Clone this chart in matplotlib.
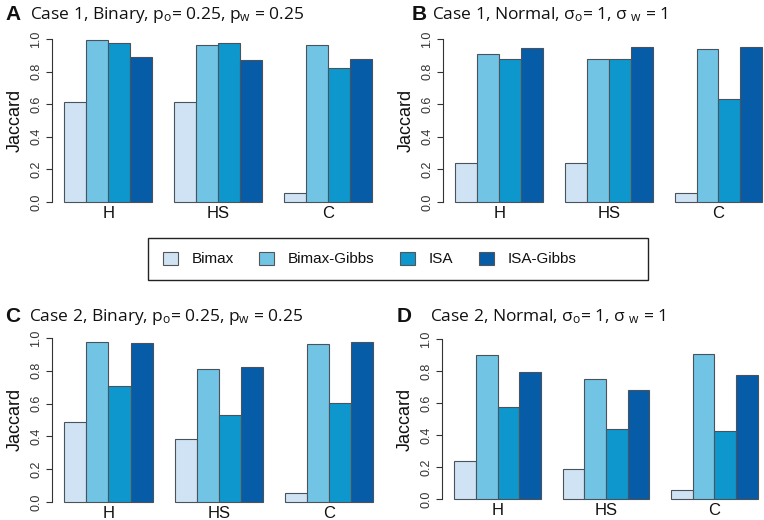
import matplotlib
matplotlib.use("Agg")
import matplotlib.pyplot as plt
from matplotlib.patches import Patch, Rectangle
import numpy as np

plt.rcParams['font.family'] = ['Liberation Sans', 'DejaVu Sans']
plt.rcParams['mathtext.fontset'] = 'custom'
plt.rcParams['mathtext.rm'] = 'Open Sans'
plt.rcParams['mathtext.it'] = 'Open Sans:italic'

# data (rows = H, HS, C ; cols = methods)
methods = ["Bimax", "Bimax-Gibbs", "ISA", "ISA-Gibbs"]
groups = ["H", "HS", "C"]
colors = ["#cfe3f4", "#72c4e5", "#0d97cc", "#075ca8"]

jac_a = [[0.616, 0.992, 0.973, 0.888], [0.616, 0.961, 0.973, 0.871], [0.053, 0.965, 0.820, 0.877]]
jac_b = [[0.240, 0.908, 0.875, 0.947], [0.240, 0.879, 0.877, 0.949], [0.055, 0.936, 0.634, 0.951]]
jac_c = [[0.486, 0.976, 0.704, 0.969], [0.384, 0.812, 0.527, 0.822], [0.053, 0.965, 0.606, 0.973]]
jac_d = [[0.238, 0.900, 0.573, 0.795], [0.186, 0.747, 0.439, 0.679], [0.056, 0.908, 0.422, 0.774]]

panels = [
    ("A", "Case 1, Binary, $\\mathrm{p_o}$= 0.25, $\\mathrm{p_w}$ = 0.25", jac_a),
    ("B", "Case 1, Normal, $\\mathrm{σ_o}$= 1, $\\mathrm{σ}\\;{}_\\mathrm{w}$ = 1", jac_b),
    ("C", "Case 2, Binary, $\\mathrm{p_o}$= 0.25, $\\mathrm{p_w}$ = 0.25", jac_c),
    ("D", "Case 2, Normal, $\\mathrm{σ_o}$= 1, $\\mathrm{σ}\\;{}_\\mathrm{w}$ = 1", jac_d),
]

W, H = 764, 520
fig = plt.figure(figsize=(W / 100, H / 100), dpi=100)

# axes boxes in pixels: left, top, width, height
boxes = [(52, 32.5, 332.6, 176), (443, 32.5, 331.6, 176),
         (52, 331.4, 333.5, 177), (442, 332.6, 328, 172.8)]
# letter x, title x, title y (pixels from top)
heads = [(5, 30, 15), (412, 432, 15), (5, 29, 317), (397, 430, 317)]

edge = "#4a535c"
for (letter, title, vals), (l, t, w, h), (lx, tx, ty) in zip(panels, boxes, heads):
    ax = fig.add_axes([l / W, 1 - (t + h) / H, w / W, h / H])
    vals = np.array(vals)
    for j in range(4):
        x = [1 + g * 5 + j for g in range(3)]
        ax.bar(x, vals[:, j], width=1, align="edge", color=colors[j],
               edgecolor=edge, linewidth=0.8)
    ax.set_xlim(0.44, 15.56)
    ax.set_ylim(-0.04, 1.04)
    for s in ["top", "right", "bottom"]:
        ax.spines[s].set_visible(False)
    ax.spines["left"].set_bounds(0, 1)
    ax.spines["left"].set_color("#333333")
    ax.spines["left"].set_linewidth(0.8)
    ax.set_yticks([0, 0.2, 0.4, 0.6, 0.8, 1.0])
    ax.set_yticklabels(["0.0", "0.2", "0.4", "0.6", "0.8", "1.0"], rotation=90, va="center")
    ax.tick_params(axis="y", length=4, width=0.8, color="#333333", labelsize=9,
                   labelcolor="#333333", pad=3)
    ax.set_xticks([3 + g * 5 for g in range(3)])
    ax.set_xticklabels(groups)
    ax.tick_params(axis="x", length=0, labelsize=12, labelcolor="#111111", pad=-1.5)
    ax.set_ylabel("Jaccard", fontsize=13, color="#111111", labelpad=5)
    fig.text(lx / W, 1 - ty / H, letter, fontsize=15, fontweight="bold",
             va="center", ha="left", color="#111111")
    fig.text(tx / W, 1 - ty / H, title, fontsize=12.5, family="Open Sans",
             va="center", ha="left", color="#111111")

# legend box across the middle
fig.patches.append(Rectangle((148 / W, 1 - 280 / H), 500 / W, 42 / H,
                             transform=fig.transFigure, fill=False,
                             edgecolor="#222222", linewidth=1))
handles = [Patch(facecolor=c, edgecolor="#555555", linewidth=0.8) for c in colors]
fig.legend(handles, methods, loc="center left", bbox_to_anchor=(163 / W, 1 - 259 / H),
           ncol=4, frameon=False, fontsize=11, handlelength=0.95, handleheight=0.95,
           handletextpad=0.9, columnspacing=1.7, borderpad=0, borderaxespad=0,
           labelcolor="#111111")

fig.savefig("out.png", dpi=100)
